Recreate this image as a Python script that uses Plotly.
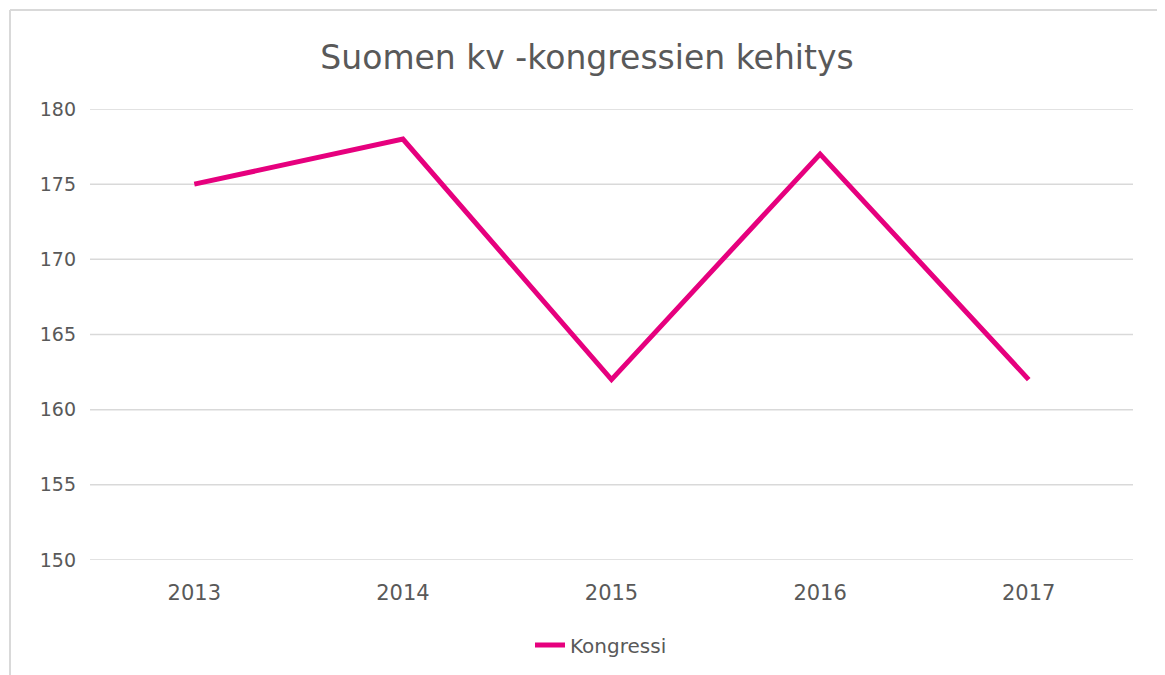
import plotly.graph_objects as go

years = ["2013", "2014", "2015", "2016", "2017"]
kongressi = [175, 178, 162, 177, 162]
y_ticks = [150, 155, 160, 165, 170, 175, 180]

W, H = 1165, 675
OFF = 8  # page body margin offset
L, T = 90 - OFF, 109 - OFF
PR, PB = 1133 - OFF, 560 - OFF
R, B = W - PR, H - PB
pw, ph = PR - L, PB - T

def px(x):
    return (x - OFF - L) / pw

def py(y):
    return (PB - (y - OFF)) / ph

fig = go.Figure()

# horizontal gridlines (drawn as shapes so the edge lines are kept)
for v in y_ticks:
    fig.add_shape(type="line", xref="paper", yref="y", x0=0, x1=1, y0=v, y1=v,
                  line=dict(color="#D9D9D9", width=1.5), layer="below")

fig.add_trace(go.Scatter(
    x=years, y=kongressi, mode="lines", name="Kongressi",
    line=dict(color="#E6007E", width=5),
))

border = dict(type="line", xref="paper", yref="paper",
              line=dict(color="#D9D9D9", width=2), layer="below")
fig.add_shape(**border, x0=px(10), x1=px(1162), y0=py(10), y1=py(10))
fig.add_shape(**border, x0=px(10), x1=px(10), y0=py(10), y1=py(700))
fig.add_shape(**border, x0=px(1162), x1=px(1162), y0=py(10), y1=py(700))

font = "Tahoma, Verdana, DejaVu Sans, sans-serif"
fig.update_layout(
    width=W, height=H,
    margin=dict(l=L, r=R, t=T, b=B),
    paper_bgcolor="white", plot_bgcolor="white",
    font=dict(family=font, color="#595959", size=19),
    title=dict(text="Suomen kv -kongressien kehitys", x=px(587), xanchor="center",
               xref="paper",
               y=1 - (57 - OFF) / H, yanchor="middle",
               font=dict(size=33, color="#595959", family=font)),
    xaxis=dict(type="category", range=[-0.5, 4.5], showgrid=False,
               showline=False, ticks="", ticklabelstandoff=18,
               tickfont=dict(size=21, color="#595959")),
    yaxis=dict(range=[150, 180], tickvals=y_ticks, showgrid=False,
               zeroline=False, showline=False, ticks="", ticklabelstandoff=13,
               tickfont=dict(size=19, color="#595959")),
    showlegend=True,
    legend=dict(orientation="h", x=px(601), xanchor="center",
                y=py(645), yanchor="middle",
                font=dict(size=20, color="#595959")),
)

fig.write_html("out.html")
